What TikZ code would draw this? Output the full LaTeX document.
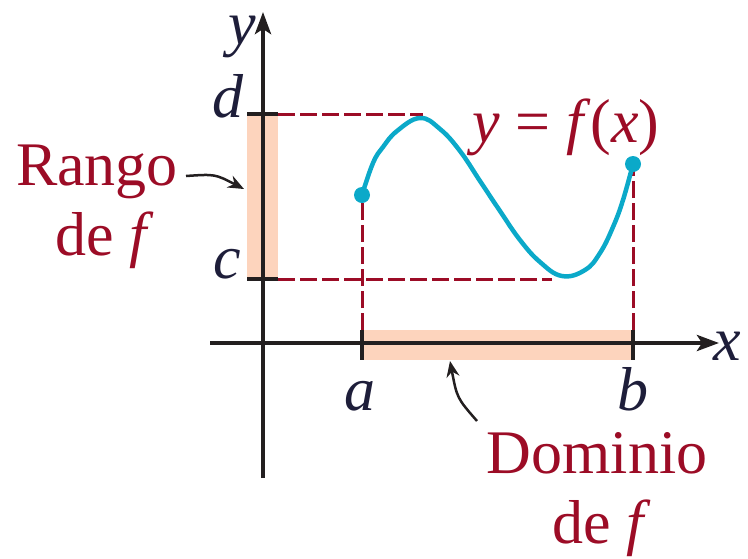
\documentclass[tikz,border=0pt]{standalone}
\usepackage{fontspec}
\setmainfont{Liberation Serif}
\usetikzlibrary{arrows.meta}
\definecolor{dred}{HTML}{9C0C26}
\definecolor{curvec}{HTML}{0BA9C9}
\definecolor{barc}{HTML}{FDD4BD}
\definecolor{navy}{HTML}{1E1E3A}
\definecolor{axc}{HTML}{231F20}
\begin{document}
\begin{tikzpicture}[x=1pt,y=-1pt,
  lbl/.style={font=\fontsize{62}{74}\selectfont\itshape, text=navy, inner sep=0pt, anchor=base},
  txt/.style={font=\fontsize{62}{74}\selectfont, text=dred, inner sep=0pt, anchor=base},
  axis/.style={line width=4pt, draw=axc, -{Stealth[length=22pt,width=16pt,inset=5pt]}},
  guide/.style={draw=dred, line width=3pt, dash pattern=on 17pt off 5pt},
  tickmark/.style={draw=axc, line width=4pt},
  pointer/.style={draw=axc, line width=2.5pt, -{Stealth[length=16pt,width=13pt]}},
  fcurve/.style={draw=curvec, line width=4.5pt},
  dotc/.style={circle, fill=curvec, minimum size=16pt, inner sep=0pt}
]
\useasboundingbox (0,0) rectangle (748,558);

% range and domain bars
\fill[barc] (247,114) rectangle (278,279);
\fill[barc] (362,330) rectangle (633,360);

% axes
\draw[axis] (263,478) -- (263,12);
\draw[axis] (210,343) -- (719,343);

% end marks of the bars
\draw[tickmark] (247,114) -- (278,114);
\draw[tickmark] (247,279) -- (278,279);
\draw[tickmark] (362,330) -- (362,360);
\draw[tickmark] (633,330) -- (633,360);

% dashed guides
\draw[guide] (278,114) -- (423,114);
\draw[guide] (278,279) -- (552,279);
\draw[guide] (362,330) -- (362,200);
\draw[guide] (633,330) -- (633,170);

% the function
\draw[fcurve] plot[smooth, tension=0.7] coordinates {(362,195) (373,163) (383,147) (397,131) (420,118) (440,129) (460,151) (480,181) (500,211) (520,240) (540,262) (562,276) (585,270) (600,253) (613,227) (623,200) (633,164)};
\node[dotc] (pa) at (362,195) {};
\node[dotc] (pb) at (633,164) {};

% axis labels
\node[lbl] (ylab) at (242,44) {y};
\node[lbl] (xlab) at (727,360) {x};
\node[lbl] (dlab) at (228,117) {d};
\node[lbl] (clab) at (227,278) {c};
\node[lbl] (alab) at (360,410) {a};
\node[lbl] (blab) at (633,410) {b};

% texts
\node[txt] (eq) at (566,142) {\textit{y} = \textit{f}(\textit{x})};
\node[txt] (rango) at (97,185) {Rango};
\node[txt] (rdef) at (105,255) {de \textit{f}};
\node[txt] (dom) at (597,473) {Dominio};
\node[txt] (ddef) at (602,543) {de \textit{f}};

% pointers
\coordinate (rt) at (186,176);
\coordinate (rh) at (244,189);
\draw[pointer] (rt) .. controls (215,174) .. (rh);
\coordinate (dt) at (477,421);
\coordinate (dh) at (450,361);
\draw[pointer] (dt) .. controls (457,398) .. (dh);
\end{tikzpicture}
\end{document}
